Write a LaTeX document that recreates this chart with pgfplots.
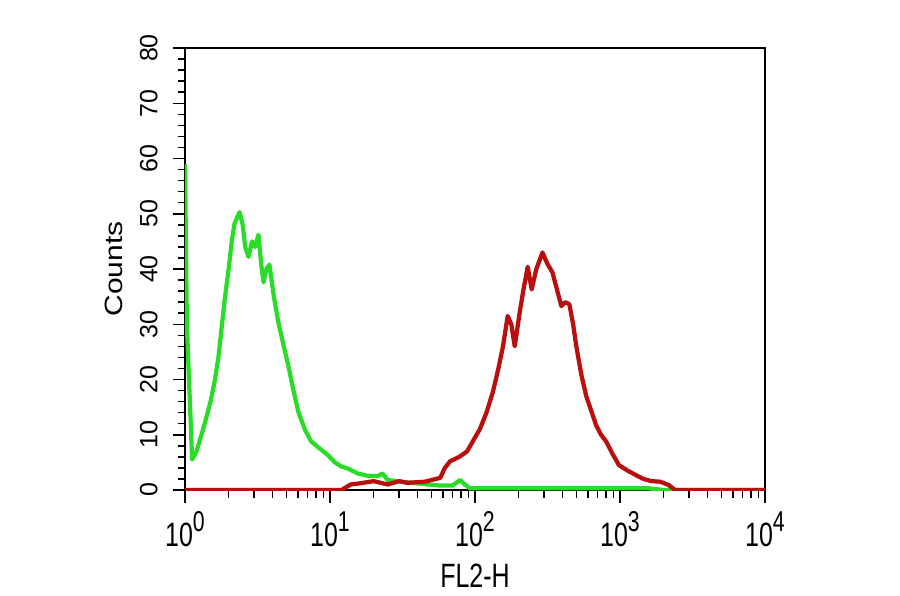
\documentclass[border=0pt]{standalone}
\usepackage{fontspec}
\setmainfont{Liberation Sans}
\usepackage{graphicx}
\usepackage{pgfplots}
\pgfplotsset{compat=1.18}

\definecolor{fgreen}{RGB}{40,220,40}
\definecolor{fred}{RGB}{185,15,15}
% horizontal text in the reference is set tall and narrow
\newcommand{\tall}[1]{\scalebox{1}[1.35]{#1}}
\newcommand{\dec}[1]{\tall{10\raisebox{0.45em}{\fontsize{8.5}{9}\selectfont #1}}}

\begin{document}
\begin{tikzpicture}
\begin{axis}[
    at={(0,0)}, anchor=south west,
    scale only axis, width=232pt, height=176.8pt,
    xmode=log, xmin=1, xmax=10000, ymin=0, ymax=80,
    xtick={1,10,100,1000,10000},
    xticklabels={\dec{0},\dec{1},\dec{2},\dec{3},\dec{4}},
    ytick={0,10,...,80}, minor y tick num=4,
    yticklabels={0,10,20,30,40,50,60,70,80},
    yticklabel style={xshift=-2.4pt, rotate=90, anchor=south},
    ticklabel style={font=\fontsize{10}{12}\selectfont},
    tick pos=left, tick align=outside,
    major tick length=5pt, minor tick length=3pt,
    tick style={black, line width=0.6pt},
    axis line style={line width=0.8pt},
    xlabel={\tall{FL2-H}}, ylabel={\scalebox{1.2}[1]{Counts}},
    label style={font=\fontsize{10}{12}\selectfont},
]
% isotype control
\addplot[fgreen, line width=1.7pt, line join=round] coordinates {
(1.00,59) (1.03,30) (1.12,5.5) (1.2,7) (1.3,10) (1.4,13) (1.5,16) (1.6,19.6)
(1.7,24) (1.8,30) (1.88,34.5) (2.0,40) (2.1,45) (2.2,48.3) (2.38,50.3) (2.5,48)
(2.6,44) (2.74,42.2) (2.9,45) (3.05,44) (3.21,46.2) (3.35,41) (3.48,37.6) (3.65,40)
(3.82,40.8) (4.1,35) (4.4,30.4) (4.8,26) (5.16,22.5) (5.6,18) (6.04,14.2) (6.7,11)
(7.41,8.8) (8.5,7.5) (9.69,6.3) (10.8,5) (11.9,4.3) (13.5,3.8) (15.5,3) (18,2.6)
(21.3,2.5) (23,3) (25,1.8) (30.6,1.5) (40,1.2) (57.5,0.8) (70,0.8) (78.9,1.8)
(85,1) (92.4,0.3) (150,0.3) (1580,0.3) (2000,0) (10000,0)
};
% antibody stained
\addplot[fred, line width=1.7pt, line join=round] coordinates {
(1,0) (12,0) (13.9,1) (16,1.2) (20,1.6) (25,1.0) (30,1.6) (34.2,1.3) (45,1.5)
(57.6,2.2) (62,4) (67.4,5.2) (78,6) (88.2,7) (100,9.5) (108,11) (120,14) (133,17.8)
(145,22) (156,26) (168,31.5) (178,30) (188,26) (203,32) (215,36) (231,40.4)
(246,36.3) (265,40) (292,43) (315,41) (342,39.4) (370,36) (394,33.3) (420,34)
(448,33.6) (475,30) (500,26) (540,21) (585,17) (640,14) (685,11.7) (740,10)
(802,8.8) (890,6.5) (984,4.5) (1130,3.5) (1288,2.7) (1450,2) (1656,1.6) (1900,1.5)
(2167,0.9) (2400,0) (10000,0)
};
\end{axis}
\path (-74pt,-41.6pt) rectangle (286pt,196pt);
\end{tikzpicture}
\end{document}
